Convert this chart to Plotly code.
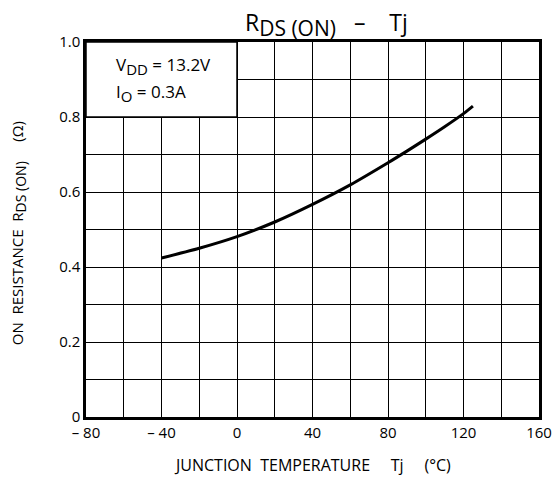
import plotly.graph_objects as go

# Data
tj = [-40, -20, 0, 20, 40, 60, 80, 90, 100, 110, 120, 125]
rds_on = [0.424, 0.45, 0.481, 0.52, 0.567, 0.619, 0.678, 0.709, 0.741, 0.774, 0.809, 0.829]

x_grid = list(range(-80, 161, 20))
x_labels = {-80: "\u2013 80", -40: "\u2013 40", 0: "0", 40: "40", 80: "80", 120: "120", 160: "160"}
y_grid = [round(i * 0.1, 1) for i in range(11)]
y_labels = {0.0: "0", 0.2: "0.2", 0.4: "0.4", 0.6: "0.6", 0.8: "0.8", 1.0: "1.0"}

FONT = "Open Sans"

fig = go.Figure()
fig.add_trace(go.Scatter(x=tj, y=rds_on, mode="lines",
                         line=dict(color="black", width=3, shape="spline", smoothing=0.8),
                         showlegend=False, hoverinfo="skip"))

fig.update_layout(
    width=554, height=479,
    margin=dict(l=86, r=15, t=42, b=62),
    paper_bgcolor="white", plot_bgcolor="white",
    font=dict(family=FONT, color="black", size=14),
    xaxis=dict(range=[-80, 160], tickvals=x_grid,
               ticktext=[x_labels.get(v, "") for v in x_grid],
               showgrid=True, gridcolor="black", gridwidth=1.3,
               showline=True, linecolor="black", linewidth=2.5, mirror=True,
               ticks="", zeroline=False, tickfont=dict(size=15),
               ticklabeloverflow="allow", automargin=False),
    yaxis=dict(range=[0, 1.0], tickvals=y_grid,
               ticktext=[y_labels.get(v, "") for v in y_grid],
               showgrid=True, gridcolor="black", gridwidth=1.3,
               showline=True, linecolor="black", linewidth=2.5, mirror=True,
               ticks="", zeroline=False, tickfont=dict(size=15), automargin=False),
)

# Condition box in upper-left corner
fig.add_shape(type="rect", xref="x", yref="y", x0=-80, x1=0, y0=0.8, y1=1.0,
              fillcolor="white", line=dict(color="black", width=1.5), layer="above")

fig.add_annotation(xref="x", yref="y", x=-65, y=0.935, xanchor="left", showarrow=False,
                   text="V<sub><span style='font-size:15px'>DD</span></sub> = 13.2V",
                   font=dict(size=17))
fig.add_annotation(xref="x", yref="y", x=-65, y=0.865, xanchor="left", showarrow=False,
                   text="I<sub><span style='font-size:15px'>O</span></sub> = 0.3A",
                   font=dict(size=17))

# Title
fig.add_annotation(xref="paper", yref="paper", x=0.5, xshift=14, y=1.0, yshift=38,
                   yanchor="top", showarrow=False,
                   text="R<sub><span style='font-size:21px'>DS (ON)</span></sub>   \u2013    Tj",
                   font=dict(size=23))

# Axis titles
fig.add_annotation(xref="paper", yref="paper", x=0.5, y=0, yshift=-48, yanchor="middle",
                   showarrow=False,
                   text="JUNCTION  TEMPERATURE     Tj     (\u00b0C)", font=dict(size=16))
fig.add_annotation(xref="paper", yref="paper", x=0, xshift=-68, xanchor="center",
                   y=0.49, showarrow=False, textangle=-90,
                   text="ON  RESISTANCE  R<sub><span style='font-size:14px'>DS (ON)</span></sub>     (\u03a9)",
                   font=dict(size=15))

# remove the browser's default 8px body margin so the figure fills the window
fig.write_html("out.html", config={"displayModeBar": False},
               post_script="document.body.style.margin='0';")
